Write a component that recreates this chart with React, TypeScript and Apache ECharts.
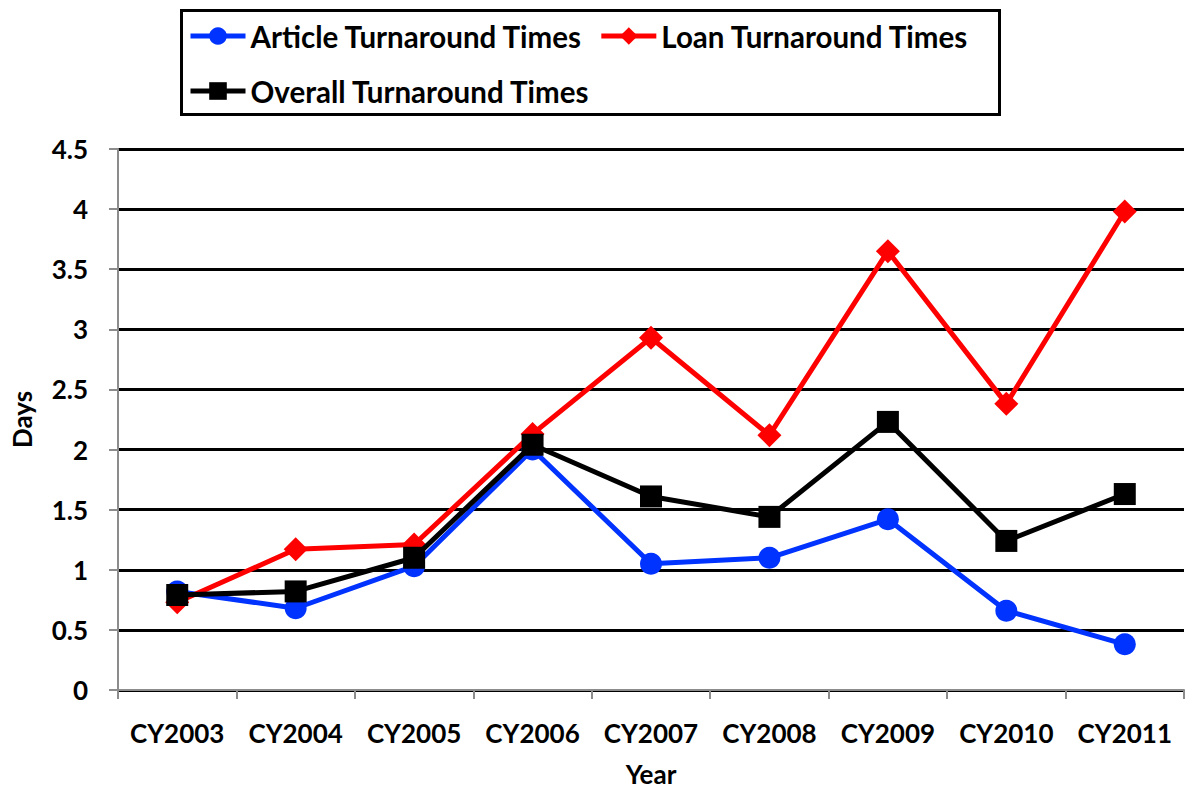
import React, { useEffect, useRef } from "react";
import * as echarts from "echarts";

const years = ["CY2003", "CY2004", "CY2005", "CY2006", "CY2007", "CY2008", "CY2009", "CY2010", "CY2011"];
const articleTimes = [0.82, 0.68, 1.03, 2.0, 1.05, 1.1, 1.42, 0.66, 0.38];
const loanTimes = [0.73, 1.17, 1.21, 2.13, 2.93, 2.12, 3.65, 2.38, 3.98];
const overallTimes = [0.79, 0.82, 1.1, 2.04, 1.61, 1.44, 2.23, 1.24, 1.63];
const yTicks = [0, 0.5, 1, 1.5, 2, 2.5, 3, 3.5, 4, 4.5];

const FONT = "Lato";

export default function App() {
  const ref = useRef<HTMLDivElement>(null);
  useEffect(() => {
    if (!ref.current) return;
    const chart = echarts.init(ref.current, null, { renderer: "svg" });
    const textStyle = { fontFamily: FONT, fontWeight: "bold", fontSize: 26, color: "#000" };
    const legendCommon = {
      itemWidth: 55,
      itemHeight: 22,
      itemGap: 16,
      textStyle: { ...textStyle, fontSize: 29.5 },
      lineStyle: { width: 5 },
      padding: 0,
    };
    chart.setOption({
      animation: false,
      backgroundColor: "#fff",
      graphic: [
        {
          type: "rect",
          shape: { x: 181.5, y: 10.5, width: 818, height: 104 },
          style: { fill: "none", stroke: "#000", lineWidth: 3 },
          z: 0,
        },
      ],
      legend: [
        { ...legendCommon, left: 188, top: 21, data: ["Article Turnaround Times", "Loan Turnaround Times"] },
        { ...legendCommon, left: 188, top: 76, data: ["Overall Turnaround Times"] },
      ],
      grid: { left: 118, right: 1, top: 149, bottom: 101, containLabel: false, outerBoundsMode: "none" },
      xAxis: {
        type: "category",
        data: years,
        boundaryGap: true,
        name: "Year",
        nameLocation: "middle",
        nameGap: 71,
        nameTextStyle: { ...textStyle, lineHeight: 26 },
        axisLine: { lineStyle: { color: "#8c8c8c", width: 2 } },
        axisTick: { show: true, length: 9, inside: false, alignWithLabel: false, lineStyle: { color: "#8c8c8c", width: 2 } },
        axisLabel: { ...textStyle, margin: 30, interval: 0 },
        splitLine: { show: false },
      },
      yAxis: {
        type: "value",
        min: 0,
        max: 4.5,
        interval: 0.5,
        name: "Days",
        nameLocation: "middle",
        nameGap: 83,
        nameRotate: 90,
        nameTextStyle: { ...textStyle },
        axisLine: { show: true, lineStyle: { color: "#8c8c8c", width: 2 } },
        axisTick: { show: true, length: 9, lineStyle: { color: "#8c8c8c", width: 2 } },
        axisLabel: {
          ...textStyle,
          margin: 30,
          formatter: (v: number) => (yTicks.includes(v) ? String(v) : ""),
        },
        splitLine: { show: true, lineStyle: { color: "#000", width: 3 } },
      },
      series: [
        {
          name: "Article Turnaround Times",
          type: "line",
          data: articleTimes,
          symbol: "circle",
          symbolSize: 22,
          itemStyle: { color: "#0033ff" },
          lineStyle: { color: "#0033ff", width: 5 },
          z: 3,
        },
        {
          name: "Loan Turnaround Times",
          type: "line",
          data: loanTimes,
          symbol: "diamond",
          symbolSize: 24,
          itemStyle: { color: "#ff0000" },
          lineStyle: { color: "#ff0000", width: 5 },
          z: 4,
        },
        {
          name: "Overall Turnaround Times",
          type: "line",
          data: overallTimes,
          symbol: "rect",
          symbolSize: 22,
          itemStyle: { color: "#000" },
          lineStyle: { color: "#000", width: 5 },
          z: 5,
        },
      ],
    });
    return () => chart.dispose();
  }, []);
  return (
    <div
      ref={ref}
      style={{ position: "fixed", left: 0, top: 0, width: 1185, height: 791, background: "#fff" }}
    />
  );
}
